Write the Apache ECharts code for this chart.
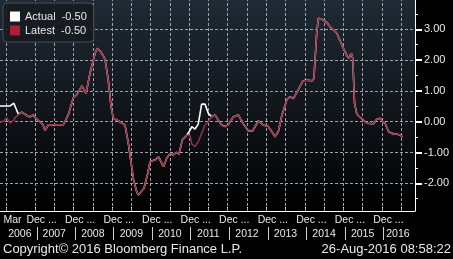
<!DOCTYPE html>
<html><head><meta charset="utf-8">
<script src="https://cdn.jsdelivr.net/npm/echarts@6/dist/echarts.min.js"></script>
<style>html,body{margin:0;padding:0;background:#000;}#c{width:453px;height:259px;}</style>
</head><body><div id="c"></div>
<script>
// ---- data ----
const dates = [
'2006-01-03','2006-02-06','2006-03-06','2006-04-09','2006-05-14','2006-05-25','2006-06-26','2006-07-28','2006-09-15','2006-10-15',
'2006-11-10','2006-12-17','2007-01-17','2007-02-15','2007-03-05','2007-04-07','2007-08-26','2007-10-12','2007-11-30','2007-12-31',
'2008-02-18','2008-03-28','2008-05-05','2008-06-22','2008-07-13','2008-08-08','2008-09-06','2008-09-25','2008-10-25','2008-11-21',
'2008-12-12','2009-01-28','2009-04-02','2009-05-03','2009-06-20','2009-07-21','2009-08-05','2009-08-21','2009-09-29','2009-11-03',
'2009-11-25','2010-01-11','2010-02-14','2010-04-01','2010-05-02','2010-06-03','2010-07-03','2010-08-04','2010-08-26','2010-09-27',
'2010-11-08','2010-12-09','2010-12-25','2011-01-25','2011-02-25','2011-03-29','2011-04-30','2011-05-31','2011-07-02','2011-08-02',
'2011-09-03','2011-10-04','2011-11-05','2011-12-06','2012-01-23','2012-03-11','2012-04-28','2012-06-15','2012-07-25','2012-09-17',
'2012-11-03','2012-12-20','2013-01-21','2013-02-22','2013-03-25','2013-04-27','2013-06-14','2013-07-14','2013-08-14','2013-09-24',
'2013-11-10','2013-12-13','2014-02-08','2014-02-25','2014-03-24','2014-04-09','2014-04-25','2014-05-26','2014-06-28','2014-07-28',
'2014-08-28','2014-09-30','2014-11-01','2014-12-02','2015-01-03','2015-01-22','2015-02-14','2015-02-28','2015-03-17','2015-04-08',
'2015-05-08','2015-06-09','2015-07-11','2015-09-12','2015-10-14','2015-11-15','2015-12-10','2016-01-01','2016-02-02','2016-03-04',
'2016-04-22','2016-05-22','2016-06-15'];
const latest = [
-0.03,0.02,0.13,-0.05,0.05,0.13,0.22,0.31,0.20,0.15,
0.22,0.08,0.00,-0.10,-0.29,-0.10,-0.10,0.22,0.78,0.87,
1.16,0.92,1.57,2.22,2.38,2.30,2.15,2.02,1.35,0.49,
0.11,0.03,-0.11,-0.70,-1.85,-2.27,-2.38,-2.35,-2.16,-1.68,
-1.30,-1.24,-1.14,-1.46,-1.19,-1.03,-1.08,-1.00,-1.05,-0.59,
-0.44,-0.45,-0.72,-0.81,-0.65,-0.38,-0.11,0.00,0.16,0.22,
0.05,-0.11,-0.16,-0.10,0.16,0.22,-0.08,-0.30,-0.30,0.03,
-0.11,-0.16,-0.32,-0.49,-0.32,0.20,0.72,0.81,0.75,1.00,
1.31,1.35,1.33,1.40,2.90,3.36,3.41,3.30,3.22,3.08,
2.98,2.87,2.62,2.38,2.15,2.06,2.22,2.05,0.60,0.24,
0.14,0.05,-0.05,-0.07,0.08,0.11,0.00,-0.05,-0.32,-0.38,
-0.41,-0.43,-0.50];
const actual = [
0.51,0.51,0.51,0.51,0.60,0.60,0.24,0.31,0.20,0.15,
0.22,0.08,0.00,-0.10,-0.29,-0.10,-0.10,0.22,0.78,0.87,
1.16,0.92,1.57,2.22,2.38,2.30,2.15,2.02,1.35,0.49,
0.11,0.03,-0.11,-0.70,-1.85,-2.27,-2.38,-2.35,-2.16,-1.68,
-1.30,-1.24,-1.14,-1.46,-1.19,-1.03,-1.08,-1.00,-1.05,-0.59,
-0.44,-0.28,-0.16,-0.24,-0.08,0.57,0.57,0.27,0.16,0.22,
0.05,-0.11,-0.16,-0.10,0.16,0.22,-0.08,-0.30,-0.30,0.03,
-0.11,-0.16,-0.32,-0.49,-0.32,0.20,0.72,0.81,0.75,1.00,
1.31,1.35,1.33,1.40,2.90,3.36,3.41,3.30,3.22,3.08,
2.98,2.87,2.62,2.38,2.15,2.06,2.22,2.05,0.60,0.24,
0.14,0.05,-0.05,-0.07,0.08,0.11,0.00,-0.05,-0.32,-0.38,
-0.41,-0.43,-0.50];
const seriesNames = ['Actual','Latest'];
const yTickValues = [-2,-1,0,1,2,3];
const yTickLabels = ['-2.00','-1.00','0.00','1.00','2.00','3.00'];
const yMinorTicks = [-2.5,-1.5,-0.5,0.5,1.5,2.5,3.5];
const gridDates = ['2006-03-01','2006-12-01','2007-06-01','2007-12-01','2008-06-01','2008-12-01','2009-06-01','2009-12-01','2010-06-01','2010-12-01','2011-06-01','2011-12-01','2012-06-01','2012-12-01','2013-06-01','2013-12-01','2014-06-01','2014-12-01','2015-06-01','2015-12-01','2016-06-01'];
const monthLabelDates = ['2006-05-01','2007-02-01','2008-02-01','2009-02-01','2010-02-01','2011-02-01','2012-02-01','2013-02-01','2014-02-01','2015-02-01','2016-02-01'];
const monthLabels = ['Mar','Dec ...','Dec ...','Dec ...','Dec ...','Dec ...','Dec ...','Dec ...','Dec ...','Dec ...','Dec ...'];
const yearLabelDates = ['2006-07-10','2007-06-01','2008-06-01','2009-06-01','2010-06-01','2011-06-01','2012-06-01','2013-06-01','2014-06-01','2015-06-01','2016-05-01'];
const yearLabels = ['2006','2007','2008','2009','2010','2011','2012','2013','2014','2015','2016'];
const yearSepDates = ['2006-12-20','2007-12-15','2008-12-15','2009-12-15','2010-12-15','2011-12-15','2012-12-15','2013-12-15','2014-12-15','2015-12-15'];
const xMin = '2006-01-03', xMax = '2016-10-10';
const copyrightText = 'Copyright\u00A9 2016 Bloomberg Finance L.P.';
const stampText = '26-Aug-2016 08:58:22';

// ---- helpers ----
function ts(s){const p=s.split('-').map(Number);return Date.UTC(p[0],p[1]-1,p[2]);}
const monthMap = {}; monthLabelDates.forEach((d,i)=>monthMap[ts(d)]=monthLabels[i]);
const yearMap = {}; yearLabelDates.forEach((d,i)=>yearMap[ts(d)]=yearLabels[i]);
const yMap = {}; yTickValues.forEach((v,i)=>yMap[v]=yTickLabels[i]);
const FONT = 'Liberation Sans';
const TXT = '#e8e8e8';
const RED = '#9c2d42';

const chart = echarts.init(document.getElementById('c'), null, {renderer:'canvas'});
const lastA = actual[actual.length-1].toFixed(2);
const lastL = latest[latest.length-1].toFixed(2);

chart.setOption({
  animation: false,
  backgroundColor: '#000',
  grid: {
    left: 0, right: 38, top: 0, bottom: 48, containLabel: false, outerBoundsMode: 'none',
    show: true, borderWidth: 0,
    backgroundColor: new echarts.graphic.LinearGradient(0,0,0,1,[
      {offset:0,color:'#1f2a35'},{offset:0.5,color:'#11161c'},{offset:1,color:'#000000'}])
  },
  legend: {
    left: 3, top: 3, orient: 'vertical', icon: 'rect', itemWidth: 10, itemHeight: 10,
    itemGap: 1, padding: [7,7,5,7],
    backgroundColor: 'rgba(22,27,33,0.92)', borderColor: '#4a4f55', borderWidth: 1, borderRadius: 4,
    textStyle: {color: TXT, fontFamily: FONT, fontSize: 11, lineHeight: 13},
    data: [{name:'Actual', itemStyle:{color:'#ffffff'}}, {name:'Latest', itemStyle:{color:'#b01c30'}}],
    formatter: n => n + '  ' + (n==='Actual'? lastA : lastL)
  },
  xAxis: [{
    type: 'value', position: 'bottom', min: ts(xMin), max: ts(xMax), scale: true,
    axisLine: {show: true, onZero: false, lineStyle: {color:'#ffffff', width: 1}},
    axisTick: {show: true, inside: true, length: 4, customValues: gridDates.map(ts), lineStyle: {color:'#ffffff'}},
    axisLabel: {customValues: monthLabelDates.map(ts), formatter: v => monthMap[v] || '', margin: 4,
      color: TXT, fontFamily: FONT, fontSize: 10.5, hideOverlap: false},
    splitLine: {show: false}
  },{
    type: 'value', position: 'bottom', offset: 16, min: ts(xMin), max: ts(xMax), scale: true,
    axisLine: {show: false, onZero: false},
    axisTick: {show: true, length: 13, customValues: yearSepDates.map(ts), lineStyle: {color:'#d0d0d0'}},
    axisLabel: {customValues: yearLabelDates.map(ts), formatter: v => yearMap[v] || '', margin: 2,
      color: TXT, fontFamily: FONT, fontSize: 10.5, hideOverlap: false},
    splitLine: {show: false}
  }],
  yAxis: [{
    type: 'value', position: 'right', min: -2.9, max: 3.95,
    axisLine: {show: true, lineStyle: {color:'#ffffff'}},
    axisTick: {show: true, length: 7, customValues: yTickValues, lineStyle: {color:'#ffffff', width: 2}},
    axisLabel: {customValues: yTickValues, formatter: v => yMap[v] !== undefined ? yMap[v] : '', margin: 9,
      color: TXT, fontFamily: FONT, fontSize: 11},
    splitLine: {show: false}
  },{
    type: 'value', position: 'right', min: -2.9, max: 3.95,
    axisLine: {show: false},
    axisTick: {show: true, length: 3, customValues: yMinorTicks, lineStyle: {color:'#ffffff'}},
    axisLabel: {show: false},
    splitLine: {show: false}
  }],
  series: [{
    name: 'Actual', type: 'line', z: 2, showSymbol: false, symbol: 'none',
    data: dates.map((d,i)=>[ts(d), actual[i]]),
    lineStyle: {color: '#ffffff', width: 1.6}, itemStyle: {color:'#ffffff'},
    markLine: {
      silent: true, z: 1, symbol: ['none','none'], label: {show: false}, animation: false,
      lineStyle: {type: [3,2], color: '#9da2a8', width: 1},
      emphasis: {disabled: true},
      data: yTickValues.map(v=>({yAxis: v})).concat(gridDates.map(d=>({xAxis: ts(d)})))
    }
  },{
    name: 'Latest', type: 'line', z: 3, showSymbol: false, symbol: 'none',
    data: dates.map((d,i)=>[ts(d), latest[i]]),
    lineStyle: {color: RED, width: 1.5}, itemStyle: {color: RED}
  }],
  graphic: [
    {type:'text', left: 3, top: 243, style:{text: copyrightText, fill: TXT, font: '13px "Liberation Sans"'}},
    {type:'text', right: 2, top: 243, style:{text: stampText, fill: TXT, font: '13px "Liberation Sans"'}}
  ]
});
</script></body></html>
